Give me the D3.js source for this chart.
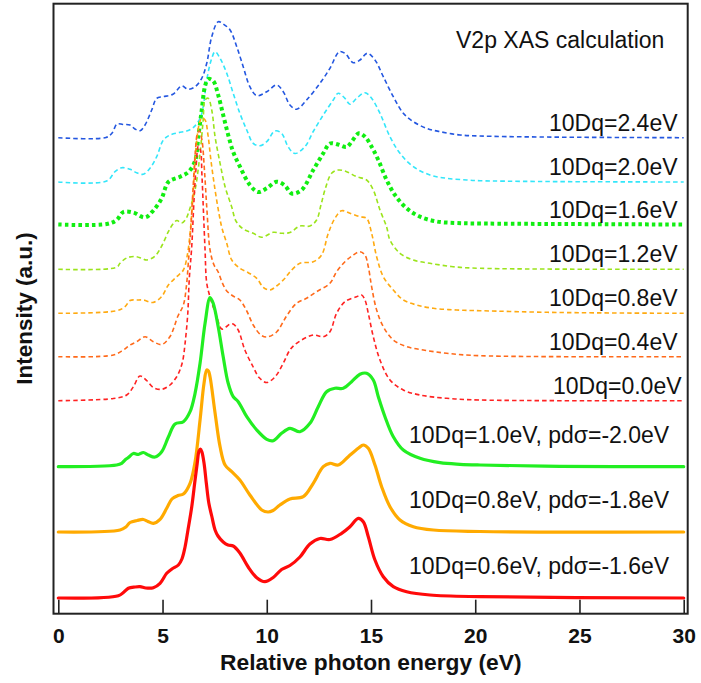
<!DOCTYPE html>
<html><head><meta charset="utf-8">
<script src="https://cdn.jsdelivr.net/npm/d3@7"></script>
<style>body{margin:0;background:#fff;} svg{display:block;font-family:"Liberation Sans",Arial,sans-serif;}</style>
</head><body><svg id="c" width="701" height="683"></svg>
<script>
// ---- data: [photon energy (eV), intensity (a.u.)] ----
const dq24 = [[0,0],[2.29,0.2],[2.58,4.7],[2.82,13.7],[3.10,13.2],[3.44,12.7],[3.68,8.7],[3.92,7],[4.16,12.7],[4.48,27.7],[4.72,39.4],[5.02,41],[5.50,43.4],[5.92,51.7],[6.22,48.4],[6.56,51],[6.88,59.4],[7.12,74.4],[7.36,101],[7.67,116],[7.91,113.7],[8.24,107.7],[8.56,91],[8.87,71],[9.19,51],[9.52,42],[10.00,46],[10.47,52.7],[10.79,46],[11.11,32.7],[11.43,28.4],[11.91,37.7],[12.55,54.4],[13.03,69.4],[13.48,86],[13.75,84.4],[14.15,75],[14.47,77.7],[14.82,84.4],[15.19,77.7],[15.59,61],[16.07,41],[16.55,24.4],[17.03,16],[17.67,9.4],[18.31,6],[19.27,2.7],[20.23,1.7],[23.1,0.7],[30,0]];
const dq20 = [[0,0],[2.32,1],[2.72,10.3],[3.04,14.3],[3.44,12.7],[3.76,9.3],[4.08,7.7],[4.40,13.7],[4.72,25.3],[5.04,42],[5.36,47],[5.76,49.3],[6.16,51],[6.47,54.3],[6.80,63.7],[6.95,75.3],[7.12,102],[7.36,123.7],[7.52,130.3],[7.76,123.7],[8.08,108.7],[8.39,88.7],[8.71,68.7],[9.04,52],[9.35,38.7],[9.67,36.3],[10.00,40.3],[10.39,51],[10.71,48.7],[11.03,35],[11.35,28.5],[11.83,35.3],[12.23,50.5],[12.71,67],[13.19,82],[13.43,88.7],[13.75,83.7],[13.99,77.7],[14.31,83.7],[14.71,89.3],[15.03,83.7],[15.43,68.7],[15.91,45.3],[16.39,28.7],[17.03,15.3],[17.83,7],[18.63,3.7],[19.59,2],[20.23,1.3],[23.1,0.5],[30,0]];
const dq16 = [[0,0],[2.32,0.5],[2.80,4.5],[3.12,12.5],[3.60,12],[4.16,7],[4.56,14],[4.96,26.2],[5.28,42.5],[5.84,47.8],[6.24,52.5],[6.56,63.5],[6.71,86.5],[6.88,114.5],[7.04,138.5],[7.19,145.5],[7.43,143.5],[7.67,129.5],[7.91,109.5],[8.15,89.5],[8.39,72.5],[8.71,58],[9.19,39.5],[9.58,32.5],[10.00,36.2],[10.47,42.8],[10.87,39],[11.19,31],[11.67,34.5],[12.23,54.5],[12.71,71.2],[13.03,81],[13.42,80],[13.83,77.5],[14.07,82.8],[14.42,91.2],[14.71,87.8],[15.03,77.8],[15.35,64.5],[15.75,44.5],[16.15,29.5],[16.71,16.2],[17.35,7.8],[18.15,3],[19.11,1.5],[20.23,1],[30,0]];
const dq12 = [[0,0],[2.80,2],[2.96,6],[3.28,11.3],[3.68,12.8],[4.00,11],[4.24,9.3],[4.64,13.3],[4.96,23.3],[5.28,37.6],[5.50,45.3],[5.69,48.8],[5.92,46.3],[6.12,50.3],[6.29,59.3],[6.56,79.3],[6.80,116],[6.95,149.3],[7.04,169.3],[7.19,171],[7.36,159.3],[7.52,132.6],[7.76,106],[8.00,82.6],[8.32,62.3],[8.52,48.3],[8.87,40.3],[9.35,36],[9.76,32],[10.31,37],[10.71,36],[11.11,36.8],[11.59,43.3],[12.07,43.3],[12.39,49.3],[12.60,64.3],[12.79,79.3],[13.11,96],[13.43,99.3],[13.83,97.6],[14.31,92.6],[14.79,89.3],[15.11,79.3],[15.43,59.3],[15.75,42.3],[15.91,29.3],[16.39,16],[17.03,9.3],[17.83,6],[18.94,2.6],[20.23,1],[30,0]];
const dq08 = [[0,0],[2.80,2.6],[3.20,6.6],[3.44,12.8],[3.78,13.3],[4.08,13.3],[4.54,10.8],[4.96,16.8],[5.28,28.3],[5.68,36.6],[6.00,43.3],[6.19,58.3],[6.32,80],[6.45,113.3],[6.60,163.3],[6.75,188.3],[6.88,195.3],[7.04,193.3],[7.18,178.3],[7.32,153.3],[7.52,123.3],[7.72,98.3],[7.85,85.3],[8.08,70],[8.32,53.3],[8.71,45],[9.11,40.6],[9.52,35],[9.83,26],[10.15,23.3],[10.47,27.3],[10.87,35],[11.11,41.3],[11.59,50],[12.23,51.6],[12.63,58.3],[12.95,80],[13.27,95],[13.59,102.6],[13.99,100],[14.47,96.6],[14.79,95],[15.03,80],[15.27,56.6],[15.59,36.6],[16.07,23.3],[16.55,13.3],[17.19,8.3],[17.99,5],[19.11,3.3],[20.23,2.6],[24.06,0.8],[30,0]];
const dq04 = [[0,0],[2.64,1.7],[3.12,6.7],[3.44,11.7],[3.76,15],[4.16,20],[4.56,15],[4.96,12.2],[5.36,20.2],[5.74,40.7],[6.00,51.7],[6.15,71.7],[6.24,94.7],[6.35,126.7],[6.46,166.7],[6.58,206.7],[6.68,223.7],[6.77,225.7],[6.89,216.7],[7.01,186.7],[7.13,146.7],[7.28,106.7],[7.47,91.7],[7.67,84.7],[7.85,74.7],[8.08,65.7],[8.38,60.7],[8.71,56.7],[9.04,45.7],[9.35,31.7],[9.72,21.7],[10.01,19.7],[10.47,24.7],[10.95,40.7],[11.43,53.4],[11.91,58.4],[12.39,65],[13.03,73.4],[13.35,85],[13.75,95],[14.15,101.7],[14.47,105],[14.71,101.7],[14.87,90],[15.03,70],[15.27,46.7],[15.59,30],[16.07,16.7],[16.71,10],[17.51,6.7],[18.63,3.4],[20.23,1],[30,0]];
const dq00 = [[0,0],[2.64,2.2],[3.28,5.7],[3.60,14],[3.92,24.7],[4.24,20.2],[4.56,13.2],[4.96,11.4],[5.36,15.7],[5.68,24],[5.84,31],[5.97,40],[6.08,57],[6.21,87],[6.28,120.7],[6.40,154],[6.51,200.7],[6.60,230.7],[6.72,254.7],[6.82,250.7],[6.89,225.7],[6.96,190.7],[7.04,150.7],[7.12,117.7],[7.28,103.7],[7.60,83.7],[7.84,71.7],[8.04,73.7],[8.24,76.7],[8.39,76.7],[8.63,70.7],[8.95,50.7],[9.35,33.7],[9.63,23.2],[9.99,18.2],[10.39,23.7],[10.79,37.4],[11.11,50.7],[11.43,57.4],[12.23,65.7],[12.71,64],[13.03,69],[13.35,87.4],[13.75,99],[14.31,104],[14.55,105.7],[14.71,100.7],[14.87,87.4],[15.11,64],[15.43,40.7],[15.91,20.7],[16.55,10.7],[17.35,5.7],[18.63,2.4],[20.23,0.7],[30,0]];
const pd20 = [[0,0],[2.80,1.7],[3.04,3.4],[3.20,6.7],[3.36,9.2],[3.60,13.2],[3.84,12.2],[4.08,14.2],[4.32,11.7],[4.64,9.7],[4.96,15],[5.28,29.7],[5.60,42.7],[6.00,45],[6.32,55],[6.56,73.4],[6.80,103.4],[7.04,143.4],[7.28,169.2],[7.43,163.4],[7.67,140],[7.91,110],[8.15,83.4],[8.39,70],[8.63,65],[9.04,50],[9.52,36.7],[10.00,27.4],[10.31,26],[10.71,33.4],[11.11,38.4],[11.59,35],[12.07,43.4],[12.47,60],[12.87,75],[13.27,78.4],[13.67,78.4],[14.07,85],[14.47,92.4],[14.79,93.4],[15.11,86.7],[15.35,70],[15.67,50],[16.07,30],[16.55,16.7],[17.35,8.4],[18.31,4],[19.27,2.4],[20.23,1.7],[24.06,0.4],[30,0]];
const pd18 = [[0,0],[2.96,2],[3.24,5],[3.44,9.5],[3.78,11.5],[4.08,12.5],[4.30,10.5],[4.56,8.7],[4.88,12.7],[5.20,23.7],[5.45,33],[5.74,36.5],[6.00,38],[6.32,48.7],[6.56,70],[6.80,112],[6.99,148.7],[7.12,162],[7.20,161],[7.28,155],[7.52,119],[7.76,85.3],[8.00,67],[8.32,60.3],[8.71,52],[9.19,37],[9.76,22],[10.06,20],[10.30,21.5],[10.63,27],[11.11,33],[11.75,35.3],[12.23,48.7],[12.71,65.3],[13.03,68.7],[13.43,67],[13.91,75.3],[14.39,83.7],[14.63,87],[14.87,83.7],[15.19,67],[15.51,45.3],[15.91,25.3],[16.39,12],[17.03,5.3],[17.99,2],[20.23,0.5],[30,0]];
const pd16 = [[0,0],[2.88,2.3],[3.15,6],[3.36,9.7],[3.68,11],[3.92,11.3],[4.20,10],[4.56,10.3],[4.88,14.7],[5.20,24.7],[5.45,29],[5.76,33],[5.93,39],[6.08,51],[6.22,68],[6.40,91],[6.56,118],[6.66,134],[6.75,147],[6.82,149],[6.89,146],[6.99,135],[7.10,115],[7.22,95],[7.36,82],[7.52,68],[7.66,62],[7.91,56],[8.14,53],[8.39,52],[8.71,45],[9.11,31],[9.52,20.3],[9.91,16.3],[10.31,20.5],[10.71,28.5],[11.11,32.5],[11.59,41],[12.07,54],[12.55,59.5],[13.03,58.5],[13.59,64.7],[13.99,71.3],[14.39,79.7],[14.63,76.3],[14.87,61.3],[15.19,38],[15.59,21.3],[16.07,11.3],[16.71,6.3],[17.83,3],[20.23,1.3],[30,0]];

// vertical stacking offsets (a.u.) and labels
const offsets = [476, 431.7, 389.2, 344.4, 300.4, 257, 213, 147, 81.7, 15.7];
const labels = ["10Dq=2.4eV","10Dq=2.0eV","10Dq=1.6eV","10Dq=1.2eV","10Dq=0.8eV","10Dq=0.4eV","10Dq=0.0eV",
                "10Dq=1.0eV, pdσ=-2.0eV","10Dq=0.8eV, pdσ=-1.8eV","10Dq=0.6eV, pdσ=-1.6eV"];
const xTicks = [0,5,10,15,20,25,30];
const title = "V2p XAS calculation";
const xTitle = "Relative photon energy (eV)";
const yTitle = "Intensity (a.u.)";

// ---- styles ----
const colors = ["#2457e0","#33e6fa","#11ee11","#9be41c","#ffaa11","#ff6a1a","#ff2222","#22ee22","#ffaa00","#ff0a0a"];
const widths = [1.6,1.6,4,1.6,1.6,1.6,1.6,3.2,3.2,3.2];
const dashes = ["4.5,3","4.5,3","3.6,3.1","4.5,3","4.5,3","4.5,3","4.5,3",null,null,null];

const series = [dq24,dq20,dq16,dq12,dq08,dq04,dq00,pd20,pd18,pd16];

const svg = d3.select("#c");
const x = d3.scaleLinear().domain([0,30]).range([58.3,683.7]);
const y = d3.scaleLinear().domain([0,610]).range([613.7,3.7]);

const g = svg.append("g");
series.forEach((s,i)=>{
  const line = d3.line().x(d=>x(d[0])).y(d=>y(d[1]+offsets[i])).curve(d3.curveCatmullRom.alpha(0.5));
  const p = g.append("path").datum(s).attr("d",line)
    .attr("fill","none").attr("stroke",colors[i]).attr("stroke-width",widths[i])
    .attr("stroke-linejoin","round");
  if(dashes[i]) p.attr("stroke-dasharray",dashes[i]); else p.attr("stroke-linecap","round");
});

// labels
labels.forEach((t,i)=>{
  const solid = i>=7;
  svg.append("text").text(t)
    .attr("x", solid ? 409 : (i===6 ? 553 : 549))
    .attr("y", y(offsets[i]) - (solid ? 24 : 7))
    .attr("font-size", 23).attr("fill","#111");
});
svg.append("text").text(title).attr("x",456).attr("y",48.3).attr("font-size",23).attr("fill","#111");

// axis
const ax = svg.append("g").attr("transform","translate(0,613.7)")
  .call(d3.axisBottom(x).tickValues(xTicks).tickSize(-14).tickPadding(14.5).tickFormat(d3.format("d")));
ax.select(".domain").remove();
ax.selectAll(".tick line").attr("stroke","#222").attr("stroke-width",1.6);
ax.selectAll(".tick text").attr("font-size",21).attr("font-weight","bold")
  .attr("font-family",'"Liberation Sans",Arial,sans-serif').attr("fill","#111");

// frame
svg.append("rect").attr("x",53.5).attr("y",3.7).attr("width",634.2).attr("height",610)
  .attr("fill","none").attr("stroke","#222").attr("stroke-width",2);

svg.append("text").text(xTitle).attr("x",370.8).attr("y",670).attr("text-anchor","middle")
  .attr("font-size",22.8).attr("font-weight","bold").attr("fill","#111");
svg.append("text").text(yTitle).attr("transform","translate(32.3,308.6) rotate(-90)")
  .attr("text-anchor","middle").attr("font-size",22.5).attr("font-weight","bold").attr("fill","#111");
</script></body></html>
